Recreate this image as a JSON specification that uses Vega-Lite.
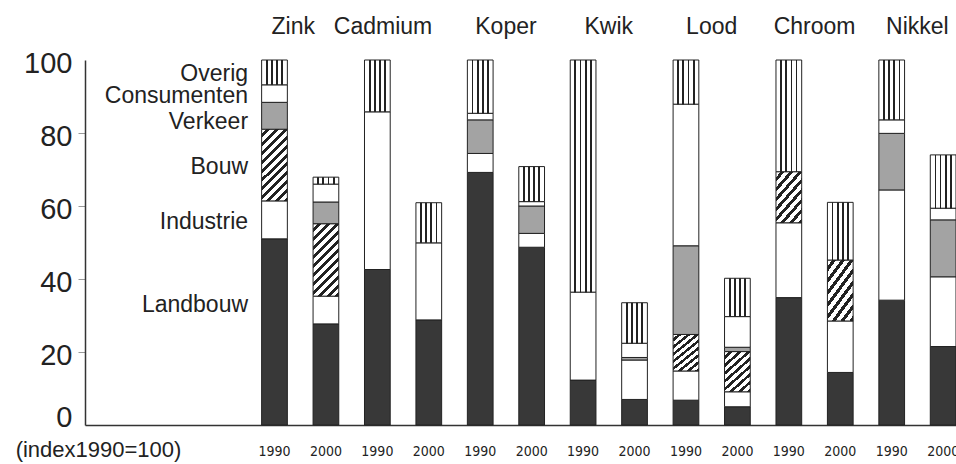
{
  "$schema": "https://vega.github.io/schema/vega-lite/v6.json",
  "width": 871,
  "height": 365,
  "autosize": "none",
  "padding": {"left": 85, "top": 60, "right": 0, "bottom": 39},
  "background": "white",
  "config": {"view": {"stroke": null}, "font": "Liberation Sans"},
  "data": {"values": [
    {"metal": "Zink", "year": 1990, "cat": "Landbouw", "value": 51.0},
    {"metal": "Zink", "year": 1990, "cat": "Industrie", "value": 10.4},
    {"metal": "Zink", "year": 1990, "cat": "Bouw", "value": 19.6},
    {"metal": "Zink", "year": 1990, "cat": "Verkeer", "value": 7.4},
    {"metal": "Zink", "year": 1990, "cat": "Consumenten", "value": 4.8},
    {"metal": "Zink", "year": 1990, "cat": "Overig", "value": 6.8},
    {"metal": "Zink", "year": 2000, "cat": "Landbouw", "value": 27.7},
    {"metal": "Zink", "year": 2000, "cat": "Industrie", "value": 7.6},
    {"metal": "Zink", "year": 2000, "cat": "Bouw", "value": 19.8},
    {"metal": "Zink", "year": 2000, "cat": "Verkeer", "value": 6.0},
    {"metal": "Zink", "year": 2000, "cat": "Consumenten", "value": 4.9},
    {"metal": "Zink", "year": 2000, "cat": "Overig", "value": 1.9},
    {"metal": "Cadmium", "year": 1990, "cat": "Landbouw", "value": 42.6},
    {"metal": "Cadmium", "year": 1990, "cat": "Industrie", "value": 43.2},
    {"metal": "Cadmium", "year": 1990, "cat": "Overig", "value": 14.2},
    {"metal": "Cadmium", "year": 2000, "cat": "Landbouw", "value": 28.8},
    {"metal": "Cadmium", "year": 2000, "cat": "Industrie", "value": 21.1},
    {"metal": "Cadmium", "year": 2000, "cat": "Overig", "value": 11.0},
    {"metal": "Koper", "year": 1990, "cat": "Landbouw", "value": 69.2},
    {"metal": "Koper", "year": 1990, "cat": "Industrie", "value": 5.2},
    {"metal": "Koper", "year": 1990, "cat": "Verkeer", "value": 9.2},
    {"metal": "Koper", "year": 1990, "cat": "Consumenten", "value": 1.8},
    {"metal": "Koper", "year": 1990, "cat": "Overig", "value": 14.6},
    {"metal": "Koper", "year": 2000, "cat": "Landbouw", "value": 48.7},
    {"metal": "Koper", "year": 2000, "cat": "Industrie", "value": 3.8},
    {"metal": "Koper", "year": 2000, "cat": "Verkeer", "value": 7.5},
    {"metal": "Koper", "year": 2000, "cat": "Consumenten", "value": 1.2},
    {"metal": "Koper", "year": 2000, "cat": "Overig", "value": 9.6},
    {"metal": "Kwik", "year": 1990, "cat": "Landbouw", "value": 12.3},
    {"metal": "Kwik", "year": 1990, "cat": "Industrie", "value": 24.1},
    {"metal": "Kwik", "year": 1990, "cat": "Overig", "value": 63.6},
    {"metal": "Kwik", "year": 2000, "cat": "Landbouw", "value": 7.0},
    {"metal": "Kwik", "year": 2000, "cat": "Industrie", "value": 10.8},
    {"metal": "Kwik", "year": 2000, "cat": "Verkeer", "value": 0.7},
    {"metal": "Kwik", "year": 2000, "cat": "Consumenten", "value": 3.9},
    {"metal": "Kwik", "year": 2000, "cat": "Overig", "value": 11.1},
    {"metal": "Lood", "year": 1990, "cat": "Landbouw", "value": 6.8},
    {"metal": "Lood", "year": 1990, "cat": "Industrie", "value": 8.0},
    {"metal": "Lood", "year": 1990, "cat": "Bouw", "value": 10.0},
    {"metal": "Lood", "year": 1990, "cat": "Verkeer", "value": 24.3},
    {"metal": "Lood", "year": 1990, "cat": "Consumenten", "value": 38.8},
    {"metal": "Lood", "year": 1990, "cat": "Overig", "value": 12.1},
    {"metal": "Lood", "year": 2000, "cat": "Landbouw", "value": 5.0},
    {"metal": "Lood", "year": 2000, "cat": "Industrie", "value": 4.1},
    {"metal": "Lood", "year": 2000, "cat": "Bouw", "value": 11.0},
    {"metal": "Lood", "year": 2000, "cat": "Verkeer", "value": 1.2},
    {"metal": "Lood", "year": 2000, "cat": "Consumenten", "value": 8.4},
    {"metal": "Lood", "year": 2000, "cat": "Overig", "value": 10.5},
    {"metal": "Chroom", "year": 1990, "cat": "Landbouw", "value": 34.9},
    {"metal": "Chroom", "year": 1990, "cat": "Industrie", "value": 20.5},
    {"metal": "Chroom", "year": 1990, "cat": "Bouw", "value": 14.0},
    {"metal": "Chroom", "year": 1990, "cat": "Overig", "value": 30.6},
    {"metal": "Chroom", "year": 2000, "cat": "Landbouw", "value": 14.4},
    {"metal": "Chroom", "year": 2000, "cat": "Industrie", "value": 14.1},
    {"metal": "Chroom", "year": 2000, "cat": "Bouw", "value": 16.7},
    {"metal": "Chroom", "year": 2000, "cat": "Overig", "value": 15.8},
    {"metal": "Nikkel", "year": 1990, "cat": "Landbouw", "value": 34.2},
    {"metal": "Nikkel", "year": 1990, "cat": "Industrie", "value": 30.2},
    {"metal": "Nikkel", "year": 1990, "cat": "Verkeer", "value": 15.5},
    {"metal": "Nikkel", "year": 1990, "cat": "Consumenten", "value": 3.7},
    {"metal": "Nikkel", "year": 1990, "cat": "Overig", "value": 16.4},
    {"metal": "Nikkel", "year": 2000, "cat": "Landbouw", "value": 21.5},
    {"metal": "Nikkel", "year": 2000, "cat": "Industrie", "value": 19.1},
    {"metal": "Nikkel", "year": 2000, "cat": "Verkeer", "value": 15.6},
    {"metal": "Nikkel", "year": 2000, "cat": "Consumenten", "value": 3.2},
    {"metal": "Nikkel", "year": 2000, "cat": "Overig", "value": 14.6}
  ]},
  "transform": [
    {"calculate": "datum.metal + ' ' + datum.year", "as": "key"},
    {"calculate": "indexof(['Landbouw','Industrie','Bouw','Verkeer','Consumenten','Overig'], datum.cat)", "as": "ord"},
    {"stack": "value", "groupby": ["key"], "sort": [{"field": "ord", "order": "ascending"}], "as": ["v0", "v1"]},
    {"calculate": "(datum.v0 + datum.v1) / 2", "as": "mid"},
    {"calculate": "'_lbl'", "as": "lk"}
  ],
  "layer": [
    {
      "transform": [{"filter": "datum.cat != 'Bouw' && datum.cat != 'Overig'"}],
      "mark": {"type": "bar", "stroke": "#222", "strokeWidth": 1},
      "encoding": {
        "x": {"field": "key", "type": "nominal",
          "scale": {"domain": ["_pad", "_lbl", "Zink 1990", "Zink 2000", "Cadmium 1990", "Cadmium 2000", "Koper 1990", "Koper 2000", "Kwik 1990", "Kwik 2000", "Lood 1990", "Lood 2000", "Chroom 1990", "Chroom 2000", "Nikkel 1990", "Nikkel 2000"], "paddingInner": 0.5, "paddingOuter": 0.717, "align": 1},
          "axis": {"title": null, "domainColor": "#333", "domainWidth": 1.5, "ticks": false, "tickSize": 0,
            "labelExpr": "substring(datum.value, 0, 1) == '_' ? '' : split(datum.value, ' ')[1]",
            "labelFont": "DejaVu Sans Condensed, Liberation Sans", "labelFontSize": 14, "labelColor": "#222", "labelAngle": 0,
            "labelBaseline": "middle", "labelPadding": 26}},
        "y": {"field": "v0", "type": "quantitative",
          "scale": {"domain": [0, 100], "nice": false},
          "axis": {"values": [0, 20, 40, 60, 80, 100], "title": "(index1990=100)", "titleAngle": 0, "titleX": 13, "titleY": 389,
            "titleAlign": "center", "titleBaseline": "middle", "titleFontSize": 22, "titleFontWeight": "normal", "titleColor": "#222",
            "labelFontSize": 29, "labelColor": "#222", "labelPadding": 6, "labelFlush": false, "labelOverlap": false,
            "labelOffset": {"condition": {"test": "datum.value == 0", "value": -8}, "value": 3},
            "tickSize": 7, "tickColor": "#999",
            "tickOpacity": {"condition": {"test": "datum.value == 0 || datum.value == 100", "value": 0}, "value": 1},
            "domainColor": "#333", "domainWidth": 1.5, "grid": false}},
        "y2": {"field": "v1"},
        "fill": {"field": "cat", "type": "nominal",
          "scale": {"domain": ["Landbouw", "Industrie", "Verkeer", "Consumenten"], "range": ["#383838", "#ffffff", "#a3a3a3", "#ffffff"]},
          "legend": null}
      }
    },
    {
      "transform": [{"filter": "datum.cat == 'Bouw' && datum.metal == 'Zink'"}],
      "mark": {"type": "bar", "stroke": "#222", "strokeWidth": 1,
        "fill": {"gradient": "linear", "x1": 0, "y1": 0, "x2": 0.43, "y2": 1.204, "stops": [
          {"offset": 0, "color": "#fff"}, {"offset": 0.05, "color": "#fff"}, {"offset": 0.05, "color": "#222"}, {"offset": 0.0909, "color": "#222"},
          {"offset": 0.0909, "color": "#fff"}, {"offset": 0.1409, "color": "#fff"}, {"offset": 0.1409, "color": "#222"}, {"offset": 0.1818, "color": "#222"},
          {"offset": 0.1818, "color": "#fff"}, {"offset": 0.2318, "color": "#fff"}, {"offset": 0.2318, "color": "#222"}, {"offset": 0.2727, "color": "#222"},
          {"offset": 0.2727, "color": "#fff"}, {"offset": 0.3227, "color": "#fff"}, {"offset": 0.3227, "color": "#222"}, {"offset": 0.3636, "color": "#222"},
          {"offset": 0.3636, "color": "#fff"}, {"offset": 0.4136, "color": "#fff"}, {"offset": 0.4136, "color": "#222"}, {"offset": 0.4545, "color": "#222"},
          {"offset": 0.4545, "color": "#fff"}, {"offset": 0.5045, "color": "#fff"}, {"offset": 0.5045, "color": "#222"}, {"offset": 0.5455, "color": "#222"},
          {"offset": 0.5455, "color": "#fff"}, {"offset": 0.5955, "color": "#fff"}, {"offset": 0.5955, "color": "#222"}, {"offset": 0.6364, "color": "#222"},
          {"offset": 0.6364, "color": "#fff"}, {"offset": 0.6864, "color": "#fff"}, {"offset": 0.6864, "color": "#222"}, {"offset": 0.7273, "color": "#222"},
          {"offset": 0.7273, "color": "#fff"}, {"offset": 0.7773, "color": "#fff"}, {"offset": 0.7773, "color": "#222"}, {"offset": 0.8182, "color": "#222"},
          {"offset": 0.8182, "color": "#fff"}, {"offset": 0.8682, "color": "#fff"}, {"offset": 0.8682, "color": "#222"}, {"offset": 0.9091, "color": "#222"},
          {"offset": 0.9091, "color": "#fff"}, {"offset": 0.9591, "color": "#fff"}, {"offset": 0.9591, "color": "#222"}, {"offset": 1, "color": "#222"}
        ]}},
      "encoding": {
        "x": {"field": "key", "type": "nominal",
          "scale": {"domain": ["_pad", "_lbl", "Zink 1990", "Zink 2000", "Cadmium 1990", "Cadmium 2000", "Koper 1990", "Koper 2000", "Kwik 1990", "Kwik 2000", "Lood 1990", "Lood 2000", "Chroom 1990", "Chroom 2000", "Nikkel 1990", "Nikkel 2000"], "paddingInner": 0.5, "paddingOuter": 0.717, "align": 1}},
        "y": {"field": "v0", "type": "quantitative"},
        "y2": {"field": "v1"}
      }
    },
    {
      "transform": [{"filter": "datum.cat == 'Bouw' && datum.metal != 'Zink'"}],
      "mark": {"type": "bar", "stroke": "#222", "strokeWidth": 1,
        "fill": {"gradient": "linear", "x1": 0, "y1": 0, "x2": 0.677, "y2": 1.185, "stops": [
          {"offset": 0, "color": "#fff"}, {"offset": 0.069, "color": "#fff"}, {"offset": 0.069, "color": "#222"}, {"offset": 0.125, "color": "#222"},
          {"offset": 0.125, "color": "#fff"}, {"offset": 0.194, "color": "#fff"}, {"offset": 0.194, "color": "#222"}, {"offset": 0.25, "color": "#222"},
          {"offset": 0.25, "color": "#fff"}, {"offset": 0.319, "color": "#fff"}, {"offset": 0.319, "color": "#222"}, {"offset": 0.375, "color": "#222"},
          {"offset": 0.375, "color": "#fff"}, {"offset": 0.444, "color": "#fff"}, {"offset": 0.444, "color": "#222"}, {"offset": 0.5, "color": "#222"},
          {"offset": 0.5, "color": "#fff"}, {"offset": 0.569, "color": "#fff"}, {"offset": 0.569, "color": "#222"}, {"offset": 0.625, "color": "#222"},
          {"offset": 0.625, "color": "#fff"}, {"offset": 0.694, "color": "#fff"}, {"offset": 0.694, "color": "#222"}, {"offset": 0.75, "color": "#222"},
          {"offset": 0.75, "color": "#fff"}, {"offset": 0.819, "color": "#fff"}, {"offset": 0.819, "color": "#222"}, {"offset": 0.875, "color": "#222"},
          {"offset": 0.875, "color": "#fff"}, {"offset": 0.944, "color": "#fff"}, {"offset": 0.944, "color": "#222"}, {"offset": 1, "color": "#222"}
        ]}},
      "encoding": {
        "x": {"field": "key", "type": "nominal",
          "scale": {"domain": ["_pad", "_lbl", "Zink 1990", "Zink 2000", "Cadmium 1990", "Cadmium 2000", "Koper 1990", "Koper 2000", "Kwik 1990", "Kwik 2000", "Lood 1990", "Lood 2000", "Chroom 1990", "Chroom 2000", "Nikkel 1990", "Nikkel 2000"], "paddingInner": 0.5, "paddingOuter": 0.717, "align": 1}},
        "y": {"field": "v0", "type": "quantitative"},
        "y2": {"field": "v1"}
      }
    },
    {
      "transform": [{"filter": "datum.cat == 'Overig'"}],
      "mark": {"type": "bar", "stroke": "#222", "strokeWidth": 1,
        "fill": {"gradient": "linear", "x1": 0, "y1": 0, "x2": 1, "y2": 0, "stops": [
          {"offset": 0, "color": "#fff"}, {"offset": 0.165, "color": "#fff"}, {"offset": 0.165, "color": "#222"}, {"offset": 0.235, "color": "#222"},
          {"offset": 0.235, "color": "#fff"}, {"offset": 0.365, "color": "#fff"}, {"offset": 0.365, "color": "#222"}, {"offset": 0.435, "color": "#222"},
          {"offset": 0.435, "color": "#fff"}, {"offset": 0.565, "color": "#fff"}, {"offset": 0.565, "color": "#222"}, {"offset": 0.635, "color": "#222"},
          {"offset": 0.635, "color": "#fff"}, {"offset": 0.765, "color": "#fff"}, {"offset": 0.765, "color": "#222"}, {"offset": 0.835, "color": "#222"},
          {"offset": 0.835, "color": "#fff"}, {"offset": 1, "color": "#fff"}
        ]}},
      "encoding": {
        "x": {"field": "key", "type": "nominal",
          "scale": {"domain": ["_pad", "_lbl", "Zink 1990", "Zink 2000", "Cadmium 1990", "Cadmium 2000", "Koper 1990", "Koper 2000", "Kwik 1990", "Kwik 2000", "Lood 1990", "Lood 2000", "Chroom 1990", "Chroom 2000", "Nikkel 1990", "Nikkel 2000"], "paddingInner": 0.5, "paddingOuter": 0.717, "align": 1}},
        "y": {"field": "v0", "type": "quantitative"},
        "y2": {"field": "v1"}
      }
    },
    {
      "transform": [{"filter": "datum.metal == 'Zink' && datum.year == 1990 && datum.cat != 'Landbouw' && datum.cat != 'Verkeer'"}],
      "mark": {"type": "text", "align": "right", "baseline": "middle", "dx": 25, "dy": 2, "fontSize": 23, "color": "#222"},
      "encoding": {
        "x": {"field": "lk", "type": "nominal",
          "scale": {"domain": ["_pad", "_lbl", "Zink 1990", "Zink 2000", "Cadmium 1990", "Cadmium 2000", "Koper 1990", "Koper 2000", "Kwik 1990", "Kwik 2000", "Lood 1990", "Lood 2000", "Chroom 1990", "Chroom 2000", "Nikkel 1990", "Nikkel 2000"], "paddingInner": 0.5, "paddingOuter": 0.717, "align": 1}},
        "y": {"field": "mid", "type": "quantitative"},
        "text": {"field": "cat"}
      }
    },
    {
      "transform": [{"filter": "datum.metal == 'Zink' && datum.year == 1990 && datum.cat == 'Verkeer'"}],
      "mark": {"type": "text", "align": "right", "baseline": "middle", "dx": 25, "dy": 6, "fontSize": 23, "color": "#222"},
      "encoding": {
        "x": {"field": "lk", "type": "nominal",
          "scale": {"domain": ["_pad", "_lbl", "Zink 1990", "Zink 2000", "Cadmium 1990", "Cadmium 2000", "Koper 1990", "Koper 2000", "Kwik 1990", "Kwik 2000", "Lood 1990", "Lood 2000", "Chroom 1990", "Chroom 2000", "Nikkel 1990", "Nikkel 2000"], "paddingInner": 0.5, "paddingOuter": 0.717, "align": 1}},
        "y": {"field": "mid", "type": "quantitative"},
        "text": {"field": "cat"}
      }
    },
    {
      "transform": [{"filter": "datum.metal == 'Zink' && datum.year == 1990 && datum.cat == 'Landbouw'"}],
      "mark": {"type": "text", "align": "right", "baseline": "middle", "dx": 25, "dy": -27, "fontSize": 23, "color": "#222"},
      "encoding": {
        "x": {"field": "lk", "type": "nominal",
          "scale": {"domain": ["_pad", "_lbl", "Zink 1990", "Zink 2000", "Cadmium 1990", "Cadmium 2000", "Koper 1990", "Koper 2000", "Kwik 1990", "Kwik 2000", "Lood 1990", "Lood 2000", "Chroom 1990", "Chroom 2000", "Nikkel 1990", "Nikkel 2000"], "paddingInner": 0.5, "paddingOuter": 0.717, "align": 1}},
        "y": {"field": "mid", "type": "quantitative"},
        "text": {"field": "cat"}
      }
    },
    {
      "transform": [{"filter": "datum.year == 1990 && datum.cat == 'Landbouw' && datum.metal != 'Zink' && datum.metal != 'Cadmium'"}],
      "mark": {"type": "text", "align": "center", "baseline": "middle", "fontSize": 23, "color": "#222"},
      "encoding": {
        "x": {"field": "key", "type": "nominal", "bandPosition": 1.5,
          "scale": {"domain": ["_pad", "_lbl", "Zink 1990", "Zink 2000", "Cadmium 1990", "Cadmium 2000", "Koper 1990", "Koper 2000", "Kwik 1990", "Kwik 2000", "Lood 1990", "Lood 2000", "Chroom 1990", "Chroom 2000", "Nikkel 1990", "Nikkel 2000"], "paddingInner": 0.5, "paddingOuter": 0.717, "align": 1}},
        "y": {"datum": 109, "type": "quantitative"},
        "text": {"field": "metal"}
      }
    },
    {
      "transform": [{"filter": "datum.year == 1990 && datum.cat == 'Landbouw' && datum.metal == 'Zink'"}],
      "mark": {"type": "text", "align": "center", "baseline": "middle", "dx": -7, "fontSize": 23, "color": "#222"},
      "encoding": {
        "x": {"field": "key", "type": "nominal", "bandPosition": 1.5,
          "scale": {"domain": ["_pad", "_lbl", "Zink 1990", "Zink 2000", "Cadmium 1990", "Cadmium 2000", "Koper 1990", "Koper 2000", "Kwik 1990", "Kwik 2000", "Lood 1990", "Lood 2000", "Chroom 1990", "Chroom 2000", "Nikkel 1990", "Nikkel 2000"], "paddingInner": 0.5, "paddingOuter": 0.717, "align": 1}},
        "y": {"datum": 109, "type": "quantitative"},
        "text": {"field": "metal"}
      }
    },
    {
      "transform": [{"filter": "datum.year == 1990 && datum.cat == 'Landbouw' && datum.metal == 'Cadmium'"}],
      "mark": {"type": "text", "align": "center", "baseline": "middle", "dx": -20, "fontSize": 23, "color": "#222"},
      "encoding": {
        "x": {"field": "key", "type": "nominal", "bandPosition": 1.5,
          "scale": {"domain": ["_pad", "_lbl", "Zink 1990", "Zink 2000", "Cadmium 1990", "Cadmium 2000", "Koper 1990", "Koper 2000", "Kwik 1990", "Kwik 2000", "Lood 1990", "Lood 2000", "Chroom 1990", "Chroom 2000", "Nikkel 1990", "Nikkel 2000"], "paddingInner": 0.5, "paddingOuter": 0.717, "align": 1}},
        "y": {"datum": 109, "type": "quantitative"},
        "text": {"field": "metal"}
      }
    }
  ]
}
